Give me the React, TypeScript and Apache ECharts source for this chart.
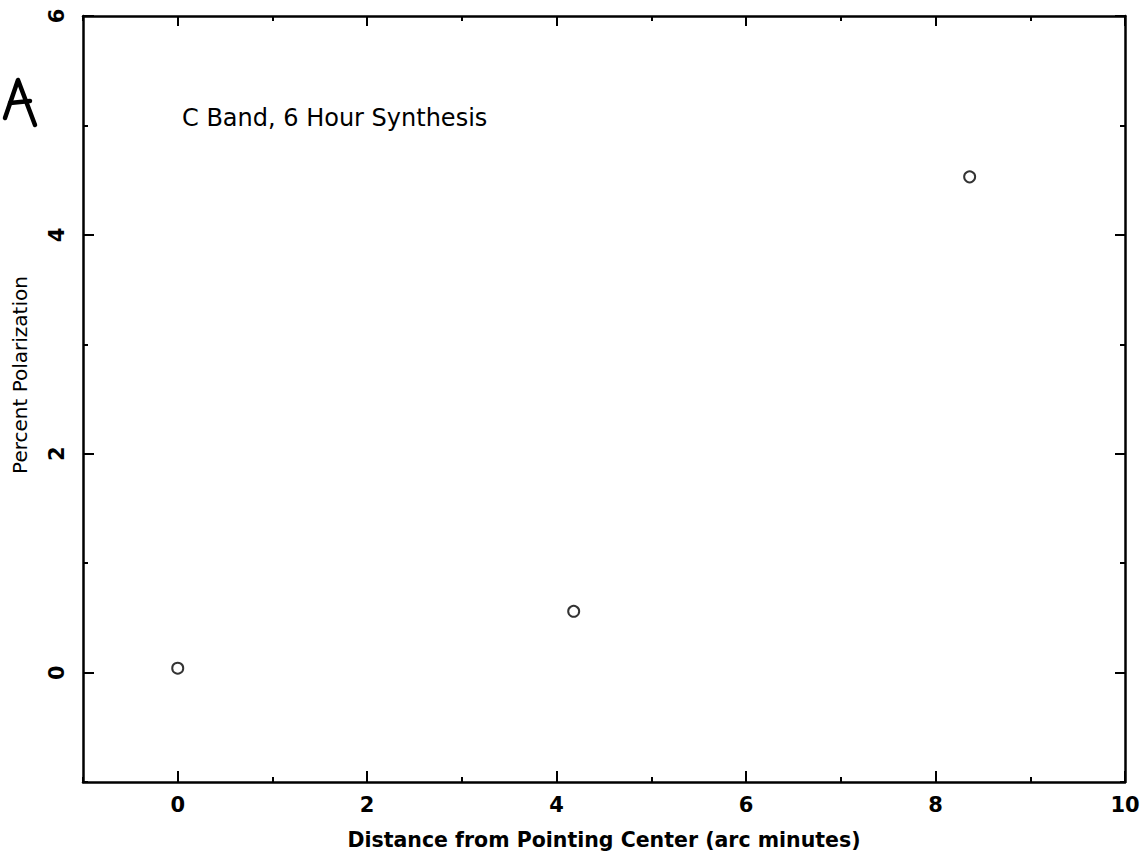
import React, { useEffect, useRef } from "react";
import * as echarts from "echarts";

const distance = [0, 4.18, 8.36];
const polarization = [0.04, 0.56, 4.53];
const xMajor = [0, 2, 4, 6, 8, 10];
const xMinor = [-1, 1, 3, 5, 7, 9];
const yMajor = [0, 2, 4, 6];
const yMinor = [-1, 1, 3, 5];
const title = "C Band, 6 Hour Synthesis";
const xName = "Distance from Pointing Center (arc minutes)";
const yName = "Percent Polarization";

const FONT = "DejaVu Sans";

export default function App() {
  const ref = useRef<HTMLDivElement>(null);
  useEffect(() => {
    document.body.style.margin = "0";
    const chart = echarts.init(ref.current!, null, { renderer: "svg" });
    const lineStyle = { color: "#000", width: 2.5 };
    const tickStyle = { color: "#000", width: 2 };
    const mkX = (pos: string, vals: number[], len: number, labels: boolean, line: boolean) => ({
      type: "value",
      position: pos,
      min: -1,
      max: 10,
      interval: 1,
      axisLine: { show: line, onZero: false, lineStyle },
      axisTick: { show: true, inside: true, length: len, customValues: vals, lineStyle: tickStyle },
      axisLabel: labels
        ? { show: true, customValues: xMajor, margin: 12, fontSize: 21, fontWeight: "bold", color: "#000", fontFamily: FONT }
        : { show: false },
      splitLine: { show: false },
    });
    const mkY = (pos: string, vals: number[], len: number, labels: boolean, line: boolean) => ({
      type: "value",
      position: pos,
      min: -1,
      max: 6,
      interval: 1,
      axisLine: { show: line, onZero: false, lineStyle },
      axisTick: { show: true, inside: true, length: len, customValues: vals, lineStyle: tickStyle },
      axisLabel: labels
        ? { show: true, customValues: yMajor, rotate: 90, margin: 16, fontSize: 21, fontWeight: "bold", color: "#000", fontFamily: FONT }
        : { show: false },
      splitLine: { show: false },
    });
    chart.setOption({
      animation: false,
      backgroundColor: "#fff",
      grid: { left: 83, right: 22, top: 16, bottom: 81, containLabel: false },
      xAxis: [
        mkX("bottom", xMajor, 11, true, true),
        mkX("bottom", xMinor, 5, false, false),
        mkX("top", xMajor, 10, false, true),
        mkX("top", xMinor, 5, false, false),
      ],
      yAxis: [
        mkY("left", yMajor, 11, true, true),
        mkY("left", yMinor, 5, false, false),
        mkY("right", yMajor, 10, false, true),
        mkY("right", yMinor, 5, false, false),
      ],
      series: [
        {
          type: "scatter",
          xAxisIndex: 0,
          yAxisIndex: 0,
          data: distance.map((d, i) => [d, polarization[i]]),
          symbol: "circle",
          symbolSize: 11,
          itemStyle: { color: "#fff", borderColor: "#000", borderWidth: 2 },
        },
      ],
      graphic: [
        {
          type: "polyline",
          shape: { points: [[5, 118], [18, 80], [35, 125]] },
          style: { stroke: "#000", lineWidth: 4.5, fill: null, lineJoin: "round", lineCap: "round" },
        },
        {
          type: "line",
          shape: { x1: 10, y1: 103, x2: 30, y2: 101 },
          style: { stroke: "#000", lineWidth: 4.5, lineCap: "round" },
        },
        {
          type: "text",
          x: 182,
          y: 118,
          style: { text: title, fontSize: 24, fontFamily: FONT, fill: "#000", align: "left", verticalAlign: "middle" },
        },
        {
          type: "text",
          x: 604,
          y: 840,
          style: {
            text: xName,
            fontSize: 20.5,
            fontWeight: "bold",
            fontFamily: FONT,
            fill: "#000",
            align: "center",
            verticalAlign: "middle",
          },
        },
        {
          type: "text",
          x: 20,
          y: 375,
          rotation: Math.PI / 2,
          style: {
            text: yName,
            fontSize: 20,
            fontFamily: FONT,
            fill: "#000",
            align: "center",
            verticalAlign: "middle",
          },
        },
      ],
    });
    return () => chart.dispose();
  }, []);
  return <div ref={ref} style={{ width: 1147, height: 863 }} />;
}
